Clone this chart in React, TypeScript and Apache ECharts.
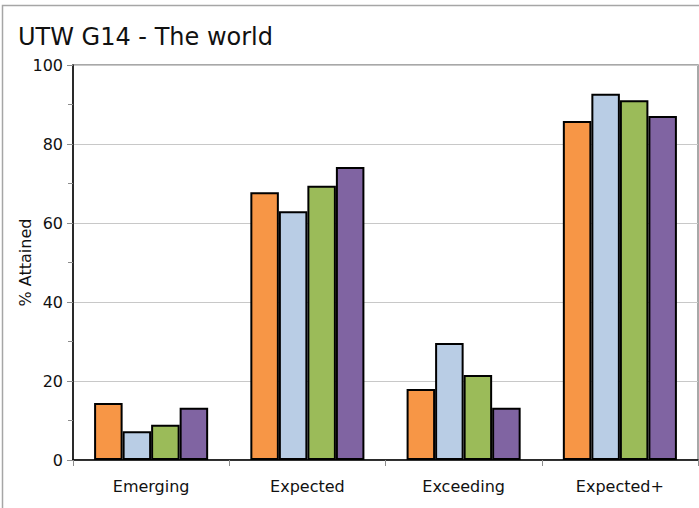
import React, { useEffect, useRef } from "react";
import * as echarts from "echarts";

const categories = ["Emerging", "Expected", "Exceeding", "Expected+"];
const seriesNames = ["Series 1", "Series 2", "Series 3", "Series 4"];
const series1 = [14.4, 67.8, 18.0, 85.8];
const series2 = [7.3, 63.0, 29.6, 92.7];
const series3 = [8.9, 69.4, 21.5, 91.1];
const series4 = [13.2, 74.2, 13.2, 87.1];
const seriesValues = [series1, series2, series3, series4];
const colors = ["#F79646", "#B9CDE5", "#9BBB59", "#8064A2"];

const FONT = "DejaVu Sans";

export default function App() {
  const ref = useRef<HTMLDivElement>(null);
  useEffect(() => {
    document.body.style.margin = "0";
    const chart = echarts.init(ref.current!, undefined, { renderer: "svg" });
    chart.setOption({
      animation: false,
      backgroundColor: "#ffffff",
      title: {
        text: "UTW G14 - The world",
        left: 13,
        top: 20,
        textStyle: { fontFamily: FONT, fontSize: 24, fontWeight: "normal", color: "#111" },
      },
      graphic: [
        {
          type: "rect",
          shape: { x: 2.5, y: 5.5, width: 720, height: 600 },
          style: { fill: "none", stroke: "#a6a6a6", lineWidth: 1.5 },
          silent: true,
          z: 100,
        },
      ],
      grid: {
        left: 73,
        top: 65,
        right: 1,
        bottom: 48,
        show: true,
        borderColor: "#8c8c8c",
        borderWidth: 1.5,
        containLabel: false,
      },
      xAxis: {
        type: "category",
        data: categories,
        axisLine: { lineStyle: { color: "#000", width: 1.5 } },
        axisTick: { show: true, length: 6, lineStyle: { color: "#8c8c8c" } },
        axisLabel: { fontFamily: FONT, fontSize: 16, color: "#111", margin: 18 },
      },
      yAxis: {
        type: "value",
        min: 0,
        max: 100,
        interval: 20,
        name: "% Attained",
        nameLocation: "middle",
        nameRotate: 90,
        nameGap: 40,
        nameMoveOverlap: false,
        nameTextStyle: { fontFamily: FONT, fontSize: 16, color: "#111" },
        axisLine: { show: true, lineStyle: { color: "#000", width: 1.5 } },
        axisTick: { show: true, length: 6, lineStyle: { color: "#8c8c8c" } },
        minorTick: { show: true, splitNumber: 2, length: 5, lineStyle: { color: "#8c8c8c" } },
        axisLabel: { fontFamily: FONT, fontSize: 16, color: "#111", margin: 10 },
        splitLine: { show: true, lineStyle: { color: "#c8c8c8", width: 1 } },
      },
      series: seriesValues.map((vals, i) => ({
        name: seriesNames[i],
        type: "bar",
        data: vals,
        barGap: "0%",
        barCategoryGap: "27%",
        itemStyle: { color: colors[i], borderColor: "#000", borderWidth: 2 },
      })),
    });
    return () => chart.dispose();
  }, []);
  return <div ref={ref} style={{ width: 699, height: 508 }} />;
}
